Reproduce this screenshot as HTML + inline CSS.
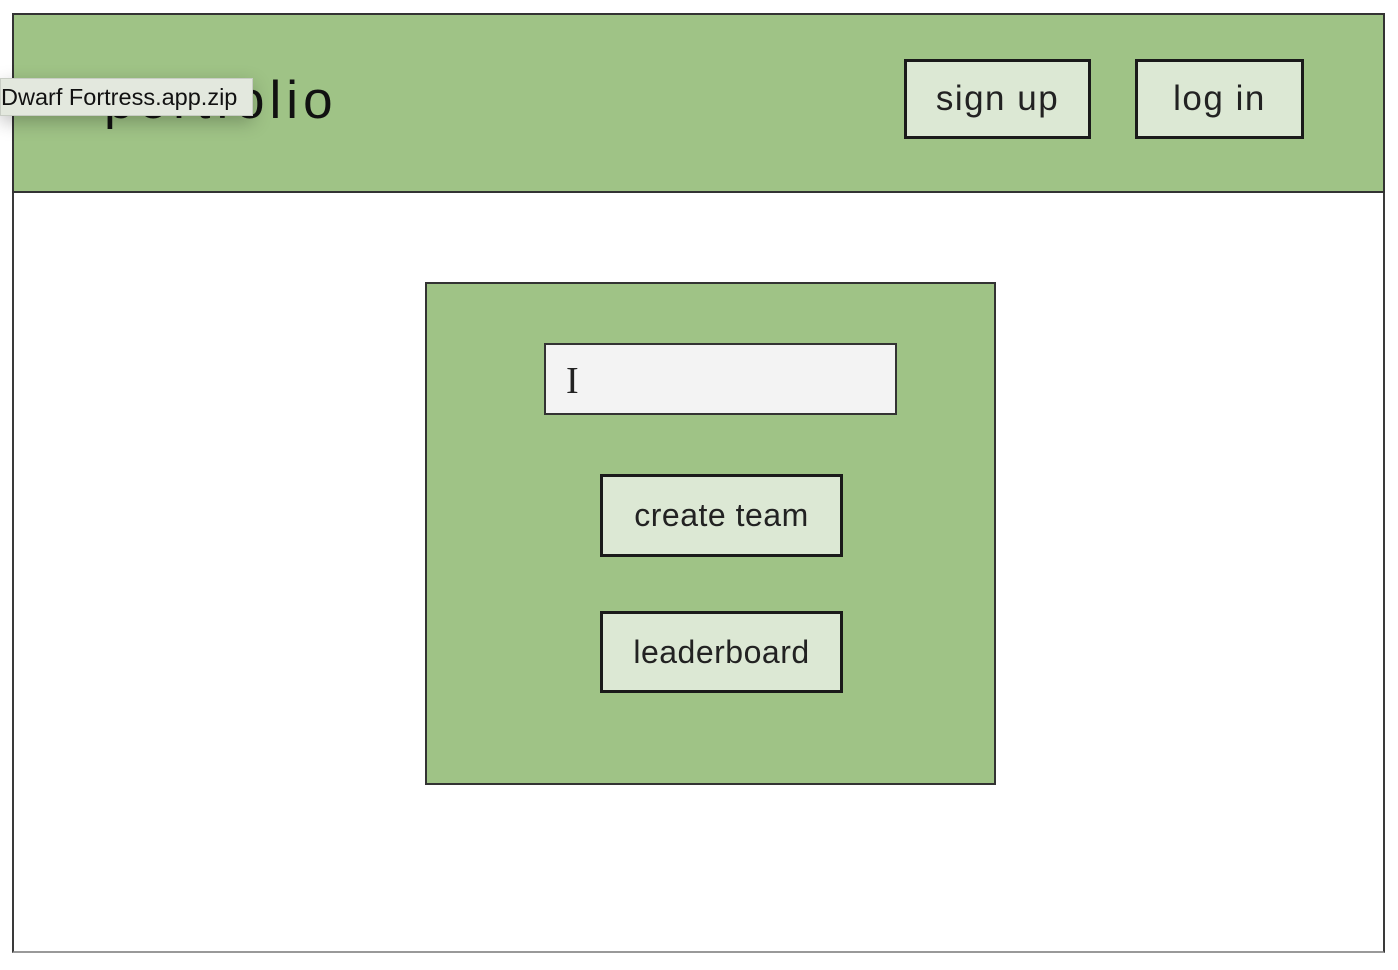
<!DOCTYPE html>
<html><head><style>
body{margin:0;width:1398px;height:970px;background:#fff;position:relative;overflow:hidden;font-family:"Liberation Sans",sans-serif;}
.a{position:absolute;box-sizing:border-box;}
.btn{background:#dce8d4;border:3px solid #1a1a1a;display:flex;align-items:center;justify-content:center;color:#222;}
</style></head><body>
<div class="a" style="left:12px;top:13px;width:1373px;height:940px;border:2px solid #3a3a3a;border-bottom-color:#999;"></div>
<div class="a" style="left:12px;top:13px;width:1373px;height:180px;background:#9fc386;border:2px solid #333;"></div>
<div class="a" style="left:104px;top:70px;font-size:53px;color:#111;letter-spacing:5px;">portfolio</div>
<div class="a btn" style="left:904px;top:59px;width:187px;height:80px;font-size:35px;letter-spacing:1.5px;">sign up</div>
<div class="a btn" style="left:1135px;top:59px;width:169px;height:80px;font-size:35px;letter-spacing:1.5px;">log in</div>
<div class="a" style="left:0;top:78px;width:253px;height:38px;background:#e3e8de;border:1px solid #c8cdc4;box-shadow:0 6px 18px rgba(0,0,0,.25);font-size:23.5px;line-height:36px;color:#111;">Dwarf Fortress.app.zip</div>
<div class="a" style="left:425px;top:282px;width:571px;height:503px;background:#9fc386;border:2px solid #333;"></div>
<div class="a" style="left:544px;top:343px;width:353px;height:72px;background:#f3f3f3;border:2px solid #333;"><span style="position:absolute;left:20px;top:14px;font-family:'Liberation Serif',serif;font-size:38px;color:#222;">I</span></div>
<div class="a btn" style="left:600px;top:474px;width:243px;height:83px;font-size:32px;letter-spacing:0.5px;">create team</div>
<div class="a btn" style="left:600px;top:611px;width:243px;height:82px;font-size:32px;letter-spacing:0.5px;">leaderboard</div>
</body></html>
